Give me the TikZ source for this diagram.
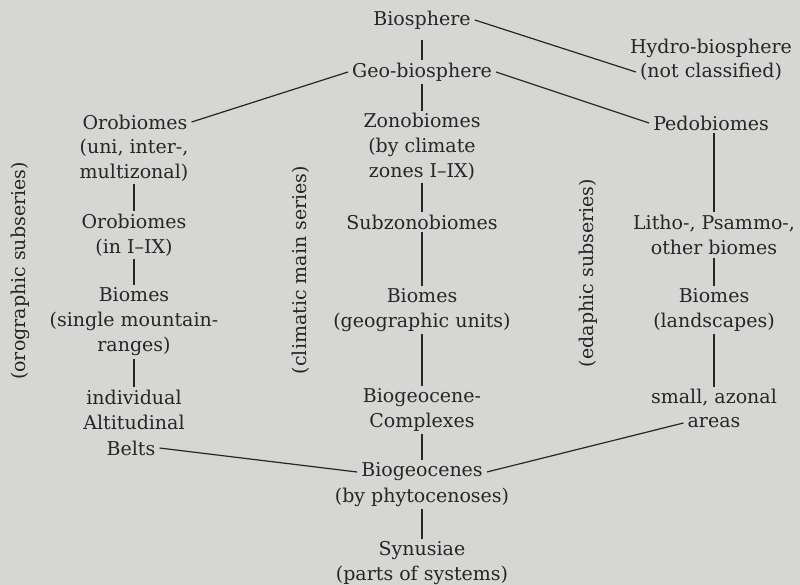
\documentclass[tikz,border=0pt]{standalone}
\usepackage{fontspec}
\setmainfont{DejaVu Serif}
\definecolor{paper}{RGB}{214,214,212}
\definecolor{ink}{RGB}{38,38,38}
\begin{document}
\begin{tikzpicture}[x=1pt,y=-1pt,
    every node/.style={text=ink,align=center,inner xsep=4pt,inner ysep=2.5pt,
      font=\fontsize{19}{25}\selectfont},
    link/.style={draw=ink,line width=1.2pt},
    series/.style={rotate=90}]
        % Paper and frame
        \fill[paper] (0,0) rectangle (800,585);
        \useasboundingbox (0,0) rectangle (800,585);

        % Climatic main series (middle column)
        \node (bio) at (422,20) {Biosphere};
        \node (geo) at (422,72) {Geo-biosphere};
        \node (zono) at (422,147) {Zonobiomes\\(by climate\\zones I–IX)};
        \node (subzono) at (422,222) {Subzonobiomes};
        \node (geounits) at (422,310) {Biomes\\(geographic units)};
        \node (complex) at (422,410) {Biogeocene-\\Complexes};
        \node (biogeo) at (422,472) {Biogeocenes};
        \node (phyto) at (422,497) {(by phytocenoses)};
        \node (synus) at (422,563) {Synusiae\\(parts of systems)};

        % Orographic subseries (left column)
        \node (oro) at (135,122) {Orobiomes};
        \node (oronote) at (134,160) {(uni, inter-,\\multizonal)};
        \node (oroIX) at (134,235) {Orobiomes\\(in I–IX)};
        \node (ranges) at (134,322) {Biomes\\(single mountain-\\ranges)};
        \node (indiv) at (134,410) {individual\\Altitudinal};
        \node (belts) at (131,448) {Belts};

        % Edaphic subseries (right column)
        \node (hydro) at (711,48) {Hydro-biosphere};
        \node (hydronote) at (711,72) {(not classified)};
        \node (pedo) at (711,123) {Pedobiomes};
        \node (litho) at (714,235) {Litho-, Psammo-,\\other biomes};
        \node (landsc) at (714,310) {Biomes\\(landscapes)};
        \node (small) at (714,398) {small, azonal};
        \node (areas) at (714,423) {areas};

        % Series labels
        \node[series] (orolabel) at (20,271) {(orographic subseries)};
        \node[series] (climlabel) at (301,270) {(climatic main series)};
        \node[series] (edaphlabel) at (588,273) {(edaphic subseries)};

        % Vertical links
        \draw[link,shorten <=8pt] (bio) -- (geo);
        \draw[link] (geo) -- (zono);
        \draw[link] (zono) -- (subzono);
        \draw[link] (subzono) -- (geounits);
        \draw[link] (geounits) -- (complex);
        \draw[link] (complex) -- (biogeo);
        \draw[link] (phyto) -- (synus);
        \draw[link] (oronote) -- (oroIX);
        \draw[link] (oroIX) -- (ranges);
        \draw[link] (ranges) -- (indiv);
        \draw[link] (pedo.south -| litho) -- (litho);
        \draw[link] (litho) -- (landsc);
        \draw[link] (landsc) -- (small);

        % Slanted links
        \draw[link] (bio.east) -- (hydronote.west);
        \draw[link] (geo.west) -- (oro.east);
        \draw[link] (geo.east) -- (pedo.west);
        \draw[link] (belts.east) -- (biogeo.west);
        \draw[link] (areas.west) -- (biogeo.east);
    \end{tikzpicture}
\end{document}
